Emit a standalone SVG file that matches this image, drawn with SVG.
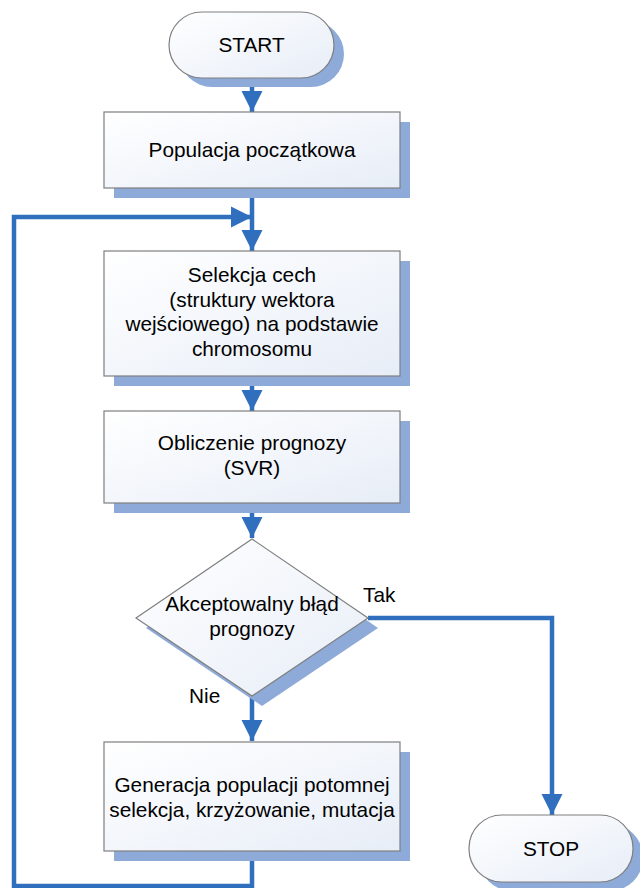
<svg xmlns="http://www.w3.org/2000/svg" width="640" height="888" viewBox="0 0 640 888">
<defs>
<linearGradient id="fill" x1="0" y1="0" x2="1" y2="1">
<stop offset="0" stop-color="#ffffff"/>
<stop offset="1" stop-color="#e7edf7"/>
</linearGradient>
<marker id="arr" markerUnits="userSpaceOnUse" markerWidth="22" markerHeight="22" refX="21" refY="10.5" orient="auto" viewBox="0 0 22 21">
<path d="M0,0 L21,10.5 L0,21 z" fill="#2f6fbd"/>
</marker>
</defs>
<style>
.shadow{fill:#8eaad9;stroke:none}
.node{fill:url(#fill);stroke:#7f7f7f;stroke-width:1.2}
.t{font-family:"Liberation Sans",Arial,sans-serif;font-size:20.8px;fill:#000;text-anchor:middle}
.lbl{font-family:"Liberation Sans",Arial,sans-serif;font-size:20.8px;fill:#000}
.c{fill:none;stroke:#2f6fbd;stroke-width:4.5;stroke-linejoin:miter}
</style>
<g id="connectors">
<path class="c" d="M252,78 V112" marker-end="url(#arr)"/>
<path class="c" d="M252,188 V251" marker-end="url(#arr)"/>
<path class="c" d="M252,851 V886 H14 V217 H252" marker-end="url(#arr)"/>
<path class="c" d="M252,376 V411" marker-end="url(#arr)"/>
<path class="c" d="M252,503 V538" marker-end="url(#arr)"/>
<path class="c" d="M252,695 V741" marker-end="url(#arr)"/>
<path class="c" d="M368,618 H552 V815" marker-end="url(#arr)"/>
</g>
<g id="start">
<rect class="shadow" x="179" y="21" width="165" height="66" rx="33"/>
<rect class="node" x="169" y="12" width="165" height="66" rx="33"/>
<text class="t" x="251.5" y="52">START</text>
</g>
<g id="populacja">
<rect class="shadow" x="114" y="122" width="296" height="76"/>
<rect class="node" x="104" y="112" width="296" height="76"/>
<text class="t" x="252" y="157">Populacja początkowa</text>
</g>
<g id="selekcja">
<rect class="shadow" x="114" y="261" width="296" height="125"/>
<rect class="node" x="104" y="251" width="296" height="125"/>
<text class="t" x="252" y="282">Selekcja cech</text>
<text class="t" x="252" y="306.5">(struktury wektora</text>
<text class="t" x="252" y="331">wejściowego) na podstawie</text>
<text class="t" x="252" y="355.5">chromosomu</text>
</g>
<g id="obliczenie">
<rect class="shadow" x="114" y="421" width="296" height="92"/>
<rect class="node" x="104" y="411" width="296" height="92"/>
<text class="t" x="252" y="450">Obliczenie prognozy</text>
<text class="t" x="252" y="474.5">(SVR)</text>
</g>
<g id="decyzja">
<polygon class="shadow" points="262,548 378,628 262,706 146,628"/>
<polygon class="node" points="252,539 368,618 252,696 136,618"/>
<text class="t" x="252" y="611">Akceptowalny błąd</text>
<text class="t" x="252" y="635.5">prognozy</text>
</g>
<g id="labels">
<text class="lbl" x="363" y="602">Tak</text>
<text class="lbl" x="189" y="703">Nie</text>
</g>
<g id="generacja">
<rect class="shadow" x="114" y="752" width="296" height="109"/>
<rect class="node" x="104" y="742" width="296" height="109"/>
<text class="t" x="252" y="792">Generacja populacji potomnej</text>
<text class="t" x="252" y="816.5">selekcja, krzyżowanie, mutacja</text>
</g>
<g id="stop">
<rect class="shadow" x="479" y="824" width="164" height="67" rx="33"/>
<rect class="node" x="469" y="815" width="164" height="67" rx="33"/>
<text class="t" x="551" y="856">STOP</text>
</g>
</svg>
